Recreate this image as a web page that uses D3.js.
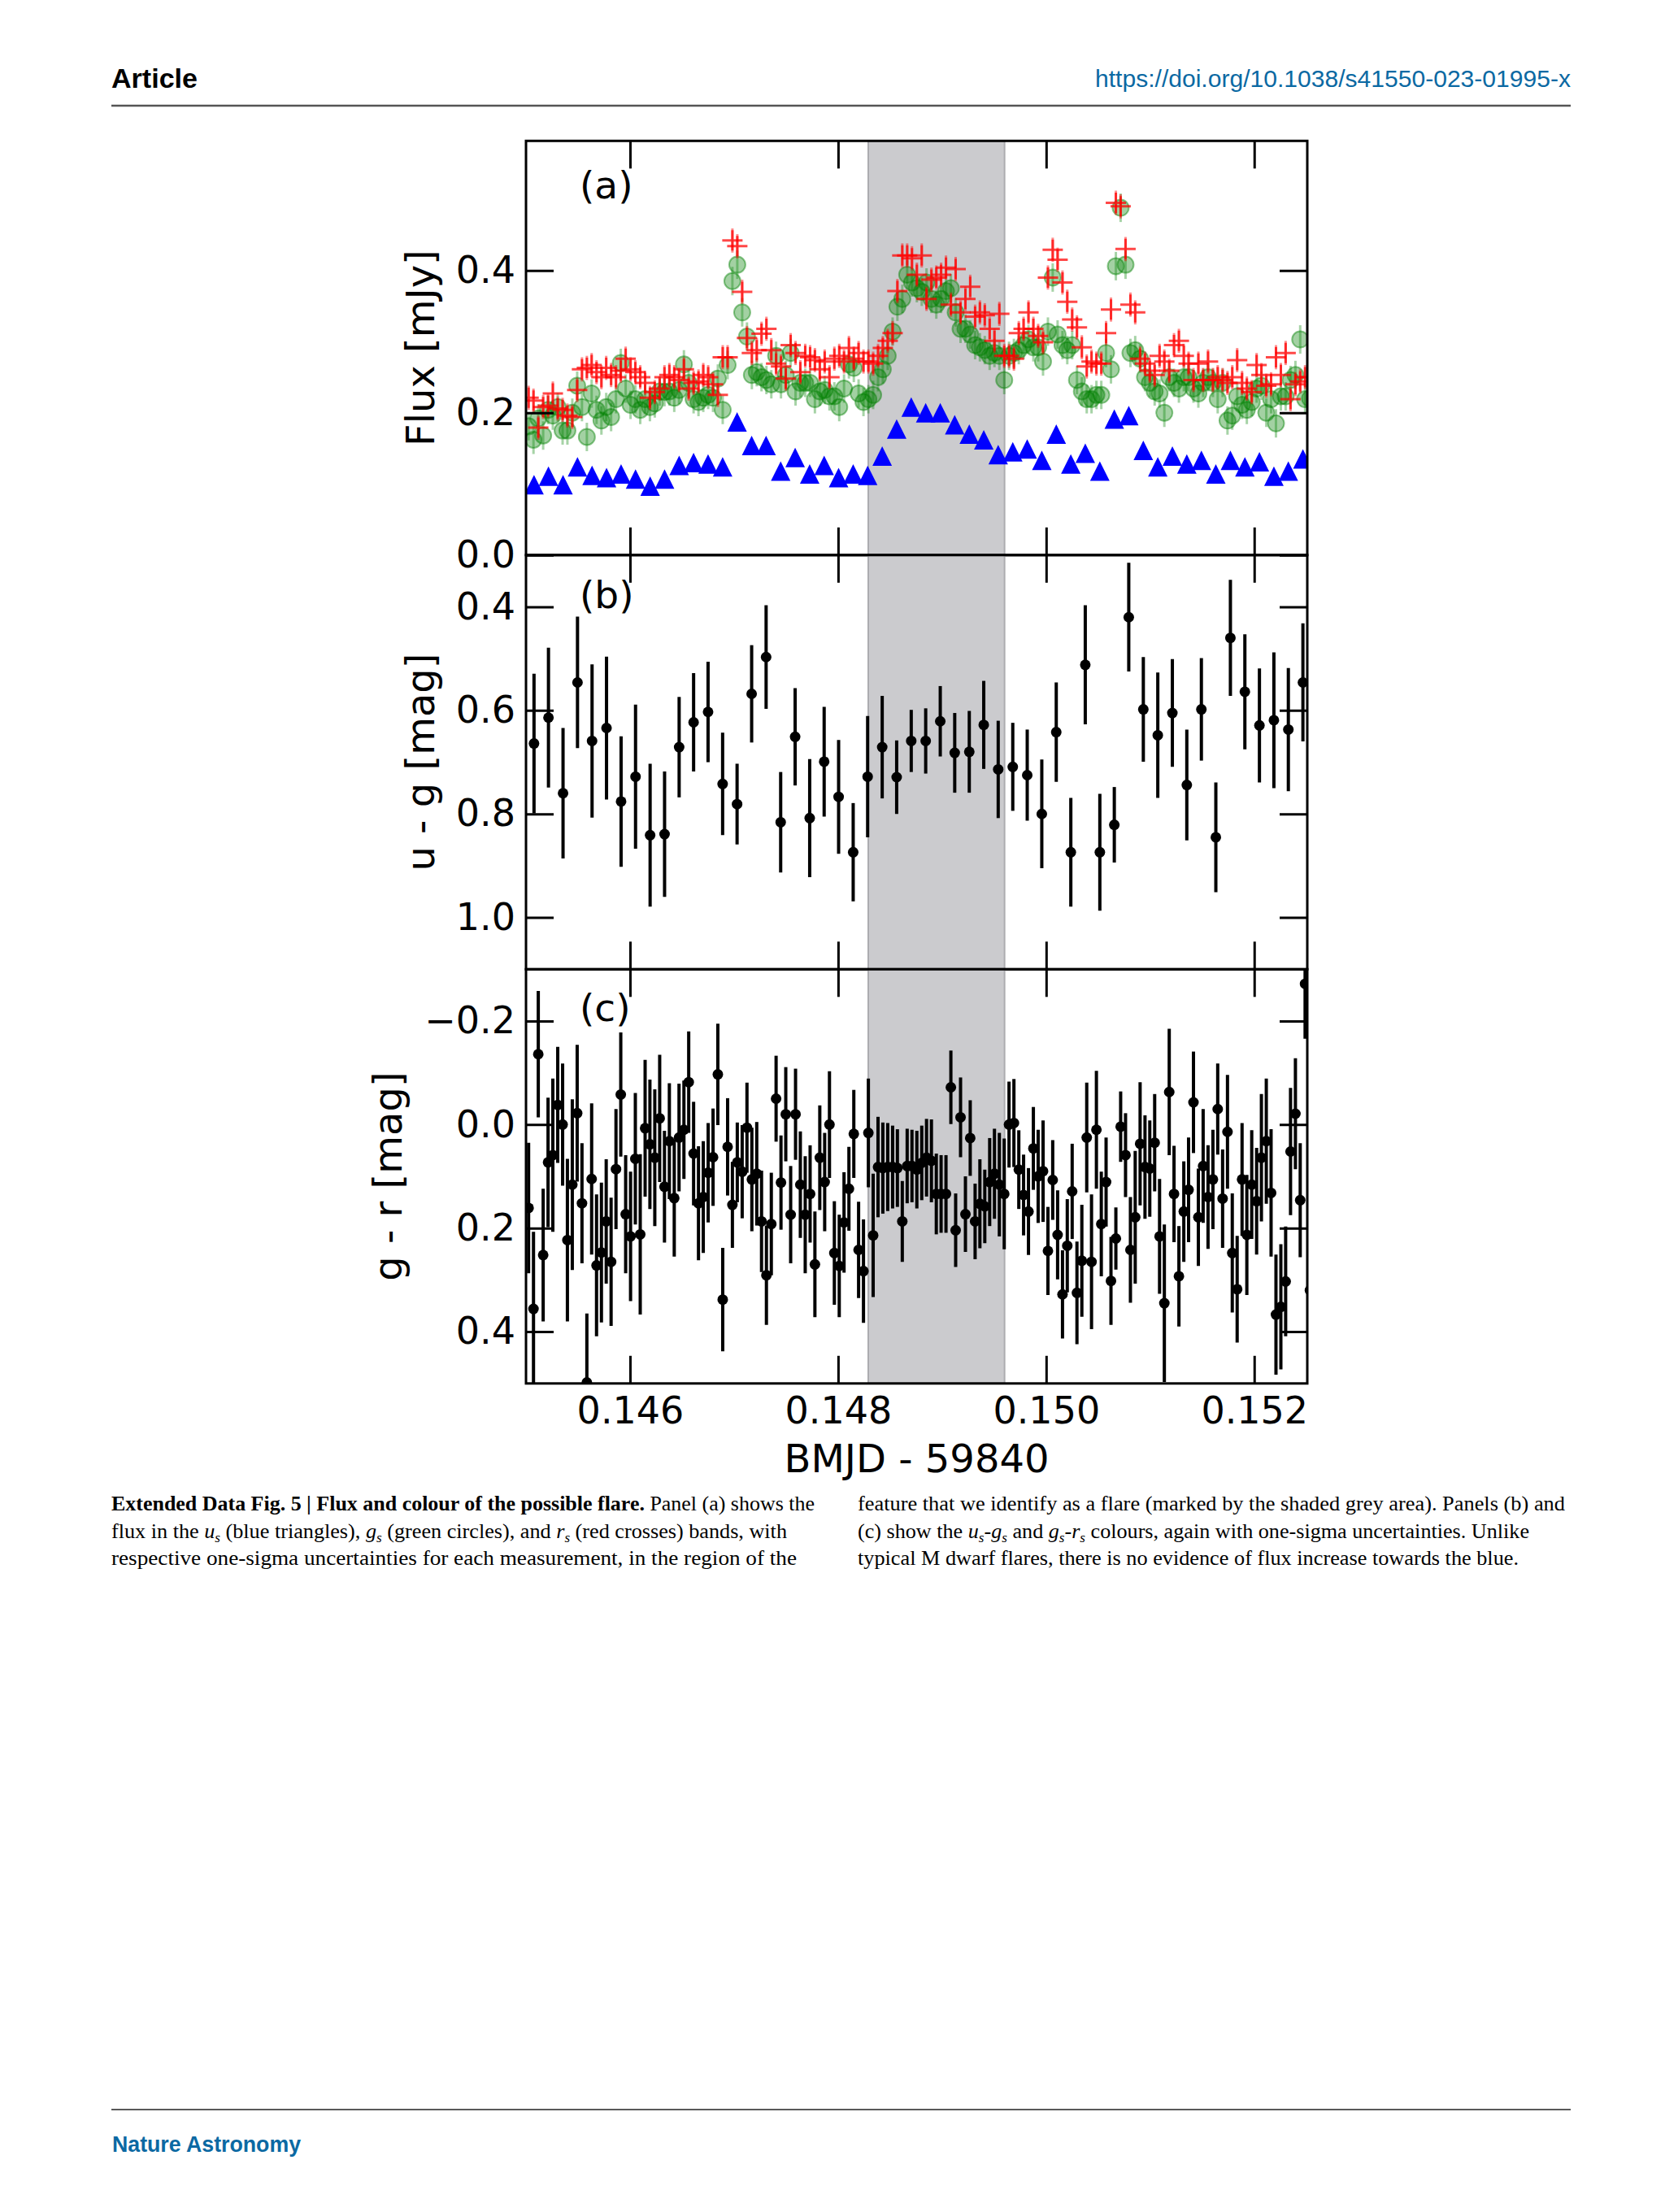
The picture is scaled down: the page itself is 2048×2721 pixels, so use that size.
<!DOCTYPE html>
<html><head><meta charset="utf-8">
<script src="https://cdn.jsdelivr.net/npm/d3@7"></script>
<style>body{margin:0;background:#fff}svg{display:block}</style>
</head><body><div id="chart"></div>
<script>
// ---------------- data ----------------
const uTime = [0.145077,0.145216,0.145356,0.145495,0.145635,0.145774,0.145914,0.146053,0.146193,0.146332,
0.146472,0.146611,0.146750,0.146890,0.147029,0.147169,0.147308,0.147448,0.147587,0.147727,
0.147866,0.148005,0.148145,0.148284,0.148424,0.148563,0.148703,0.148842,0.148982,0.149121,
0.149261,0.149400,0.149539,0.149679,0.149818,0.149958,0.150097,0.150237,0.150376,0.150516,
0.150655,0.150794,0.150934,0.151073,0.151213,0.151352,0.151492,0.151631,0.151771,0.151910,
0.152050,0.152189,0.152328,0.152468];
const uFlux = [0.099,0.111,0.099,0.124,0.112,0.109,0.114,0.107,0.097,0.107,
0.126,0.130,0.128,0.124,0.187,0.154,0.154,0.118,0.137,0.114,
0.126,0.109,0.114,0.112,0.139,0.177,0.208,0.200,0.200,0.183,
0.170,0.162,0.141,0.145,0.149,0.133,0.170,0.128,0.143,0.118,
0.191,0.196,0.147,0.124,0.139,0.128,0.133,0.114,0.133,0.124,
0.131,0.111,0.118,0.135];
const ugColour = [0.664,0.614,0.760,0.546,0.659,0.634,0.776,0.728,0.841,0.839,
0.671,0.623,0.603,0.742,0.781,0.568,0.497,0.816,0.651,0.808,
0.699,0.767,0.874,0.728,0.671,0.729,0.659,0.659,0.621,0.682,
0.680,0.628,0.714,0.709,0.725,0.800,0.642,0.874,0.512,0.874,
0.821,0.420,0.598,0.648,0.605,0.744,0.598,0.845,0.460,0.564,
0.629,0.619,0.637,0.546];
const ugErr = [0.135,0.135,0.126,0.127,0.148,0.138,0.126,0.139,0.138,0.121,
0.097,0.095,0.097,0.099,0.078,0.094,0.100,0.097,0.094,0.114,
0.106,0.110,0.095,0.117,0.099,0.071,0.060,0.063,0.068,0.077,
0.079,0.085,0.094,0.085,0.088,0.105,0.096,0.105,0.115,0.113,
0.073,0.105,0.101,0.121,0.104,0.107,0.099,0.106,0.112,0.111,
0.110,0.131,0.119,0.114];

const grTime = [0.145025,0.145072,0.145118,0.145165,0.145212,0.145258,0.145305,0.145352,0.145398,0.145445,
0.145492,0.145538,0.145585,0.145631,0.145678,0.145725,0.145771,0.145818,0.145865,0.145911,
0.145958,0.146005,0.146051,0.146098,0.146145,0.146191,0.146238,0.146285,0.146331,0.146378,
0.146425,0.146471,0.146518,0.146564,0.146611,0.146658,0.146704,0.146751,0.146798,0.146844,
0.146891,0.146938,0.146984,0.147031,0.147078,0.147124,0.147171,0.147218,0.147264,0.147311,
0.147358,0.147404,0.147451,0.147497,0.147544,0.147591,0.147637,0.147684,0.147731,0.147777,
0.147824,0.147871,0.147917,0.147964,0.148011,0.148057,0.148104,0.148151,0.148197,0.148244,
0.148291,0.148337,0.148384,0.148430,0.148477,0.148524,0.148570,0.148617,0.148664,0.148710,
0.148757,0.148804,0.148850,0.148897,0.148944,0.148990,0.149037,0.149084,0.149130,0.149177,
0.149224,0.149270,0.149317,0.149363,0.149410,0.149457,0.149503,0.149550,0.149597,0.149643,
0.149690,0.149737,0.149783,0.149830,0.149877,0.149923,0.149970,0.150017,0.150063,0.150110,
0.150157,0.150203,0.150250,0.150296,0.150343,0.150390,0.150436,0.150483,0.150530,0.150576,
0.150623,0.150670,0.150716,0.150763,0.150810,0.150856,0.150903,0.150950,0.150996,0.151043,
0.151090,0.151136,0.151183,0.151229,0.151276,0.151323,0.151369,0.151416,0.151463,0.151509,
0.151556,0.151603,0.151649,0.151696,0.151743,0.151789,0.151836,0.151883,0.151929,0.151976,
0.152023,0.152069,0.152116,0.152162,0.152209,0.152256,0.152302,0.152349,0.152396,0.152442,
0.152489,0.152536];
const gFlux = [0.181,0.162,0.192,0.168,0.204,0.196,0.208,0.175,0.175,0.200,
0.238,0.208,0.166,0.227,0.204,0.189,0.208,0.194,0.219,0.270,
0.234,0.211,0.219,0.204,0.219,0.208,0.213,0.230,0.229,0.230,
0.221,0.232,0.268,0.242,0.219,0.215,0.221,0.225,0.221,0.248,
0.204,0.267,0.385,0.408,0.341,0.307,0.253,0.257,0.250,0.246,
0.240,0.280,0.240,0.253,0.284,0.230,0.242,0.242,0.242,0.219,
0.230,0.232,0.223,0.223,0.208,0.234,0.268,0.263,0.227,0.215,
0.219,0.225,0.250,0.261,0.280,0.314,0.349,0.360,0.394,0.383,
0.375,0.370,0.383,0.360,0.352,0.360,0.371,0.375,0.341,0.318,
0.318,0.310,0.295,0.292,0.288,0.280,0.284,0.280,0.246,0.280,
0.284,0.288,0.295,0.303,0.292,0.292,0.272,0.314,0.390,0.310,
0.295,0.288,0.295,0.246,0.230,0.219,0.219,0.225,0.225,0.284,
0.261,0.406,0.488,0.408,0.284,0.288,0.276,0.250,0.242,0.230,
0.227,0.200,0.250,0.242,0.234,0.250,0.250,0.234,0.227,0.242,
0.250,0.242,0.219,0.242,0.189,0.196,0.223,0.211,0.204,0.215,
0.234,0.238,0.200,0.219,0.185,0.223,0.223,0.246,0.253,0.303,
0.219,0.220];
const rFlux = [0.221,0.217,0.179,0.208,0.210,0.227,0.206,0.204,0.196,0.194,
0.232,0.261,0.263,0.267,0.257,0.250,0.263,0.253,0.250,0.259,
0.276,0.261,0.257,0.250,0.242,0.221,0.229,0.234,0.250,0.253,
0.250,0.246,0.261,0.234,0.242,0.244,0.253,0.250,0.240,0.225,
0.278,0.278,0.442,0.434,0.370,0.305,0.284,0.288,0.311,0.318,
0.288,0.269,0.265,0.248,0.295,0.284,0.257,0.280,0.278,0.274,
0.261,0.272,0.250,0.276,0.280,0.272,0.291,0.276,0.284,0.272,
0.272,0.269,0.280,0.291,0.301,0.312,0.371,0.421,0.421,0.417,
0.394,0.421,0.360,0.387,0.390,0.394,0.404,0.352,0.402,0.341,
0.360,0.377,0.335,0.341,0.337,0.318,0.301,0.339,0.280,0.280,
0.276,0.312,0.318,0.341,0.318,0.308,0.299,0.390,0.429,0.415,
0.383,0.356,0.331,0.320,0.292,0.265,0.272,0.269,0.269,0.312,
0.345,0.495,0.490,0.430,0.352,0.341,0.276,0.269,0.259,0.253,
0.280,0.272,0.259,0.295,0.301,0.280,0.269,0.246,0.269,0.246,
0.272,0.246,0.250,0.246,0.242,0.250,0.274,0.242,0.234,0.229,
0.267,0.253,0.238,0.240,0.278,0.253,0.284,0.219,0.240,0.244,
0.250,0.250];
const gFluxErr = 0.02;
const rFluxErr = 0.017;
const grColour = [0.161,0.356,-0.136,0.252,0.073,0.059,-0.038,0.000,0.223,0.116,
-0.022,0.152,0.498,0.105,0.272,0.247,0.187,0.265,0.086,-0.058,
0.173,0.216,0.066,0.212,0.007,0.038,0.064,-0.012,0.120,0.032,
0.142,0.025,0.010,-0.082,0.056,0.152,0.140,0.093,0.063,-0.097,
0.338,0.043,0.155,0.073,0.091,0.006,0.106,0.095,0.187,0.291,
0.192,-0.050,0.112,-0.020,0.174,-0.020,0.116,0.174,0.134,0.270,
0.064,0.111,0.000,0.248,0.273,0.189,0.124,0.018,0.242,0.283,
0.016,0.214,0.082,0.084,0.082,0.082,0.084,0.187,0.080,0.080,
0.087,0.074,0.064,0.070,0.134,0.134,0.134,-0.072,0.204,-0.014,
0.173,0.026,0.187,0.153,0.158,0.111,0.095,0.116,0.134,0.000,
-0.003,0.087,0.136,0.168,0.046,0.100,0.090,0.244,0.107,0.213,
0.328,0.234,0.129,0.325,0.263,0.025,0.265,0.010,0.192,0.111,
0.302,0.220,0.004,0.059,0.242,0.179,0.037,0.082,0.085,0.035,
0.216,0.345,-0.063,0.134,0.293,0.168,0.126,-0.043,0.179,0.080,
0.140,0.106,-0.030,0.143,0.014,0.248,0.318,0.106,0.213,0.116,
0.148,0.064,0.032,0.132,0.367,0.352,0.303,0.052,-0.021,0.146,
-0.272,0.320];
const grErr = [0.126,0.149,0.122,0.128,0.125,0.148,0.112,0.118,0.157,0.165,
0.132,0.116,0.133,0.146,0.137,0.135,0.120,0.124,0.116,0.120,
0.114,0.125,0.127,0.155,0.132,0.125,0.132,0.123,0.108,0.112,
0.113,0.104,0.095,0.098,0.100,0.110,0.108,0.096,0.094,0.098,
0.100,0.094,0.083,0.077,0.090,0.087,0.100,0.100,0.098,0.096,
0.099,0.083,0.091,0.091,0.094,0.088,0.103,0.113,0.094,0.102,
0.101,0.095,0.103,0.100,0.099,0.097,0.081,0.085,0.093,0.100,
0.105,0.119,0.097,0.088,0.085,0.080,0.075,0.078,0.072,0.070,
0.075,0.072,0.075,0.080,0.078,0.075,0.075,0.071,0.071,0.077,
0.073,0.073,0.073,0.086,0.071,0.085,0.087,0.100,0.107,0.083,
0.085,0.076,0.078,0.084,0.080,0.090,0.098,0.085,0.077,0.086,
0.085,0.090,0.092,0.099,0.108,0.106,0.130,0.114,0.101,0.086,
0.085,0.060,0.068,0.081,0.102,0.128,0.119,0.100,0.093,0.094,
0.111,0.152,0.122,0.093,0.097,0.097,0.101,0.098,0.094,0.110,
0.100,0.096,0.088,0.095,0.110,0.115,0.103,0.109,0.116,0.105,
0.103,0.123,0.121,0.123,0.116,0.121,0.106,0.123,0.107,0.110,
0.106,0.120];

const flareStart = 0.14829, flareEnd = 0.14960;
const xDomain = [0.145, 0.15251];
const xTicks = [0.146, 0.148, 0.150, 0.152];
const fluxTicks = [0.0, 0.2, 0.4];
const ugTicks = [0.4, 0.6, 0.8, 1.0];
const grTicks = [-0.2, 0.0, 0.2, 0.4];
const panelLabels = ["(a)", "(b)", "(c)"];
const yLabels = ["Flux [mJy]", "u - g [mag]", "g - r [mag]"];
const xLabel = "BMJD - 59840";

// ---------------- drawing ----------------
const W = 2048, H = 2721;
const svg = d3.select("#chart").append("svg").attr("width", W).attr("height", H)
  .attr("viewBox", `0 0 ${W} ${H}`);
svg.append("rect").attr("width", W).attr("height", H).attr("fill", "#fff");

const TICK = "DejaVu Sans";
const blueLink = "#0b69a3";

// header
svg.append("text").attr("x", 137).attr("y", 108).text("Article")
  .attr("font-family", "Liberation Sans, Arial, sans-serif").attr("font-weight", "bold")
  .attr("font-size", 34).attr("textLength", 106).attr("lengthAdjust", "spacingAndGlyphs");
svg.append("text").attr("x", 1347).attr("y", 107).text("https://doi.org/10.1038/s41550-023-01995-x")
  .attr("font-family", "Liberation Sans, Arial, sans-serif").attr("font-size", 30)
  .attr("fill", blueLink).attr("textLength", 585).attr("lengthAdjust", "spacingAndGlyphs");
svg.append("line").attr("x1", 137).attr("x2", 1932).attr("y1", 130).attr("y2", 130)
  .attr("stroke", "#555").attr("stroke-width", 2.5);

// footer
svg.append("line").attr("x1", 137).attr("x2", 1932).attr("y1", 2595).attr("y2", 2595)
  .attr("stroke", "#222").attr("stroke-width", 1.5);
svg.append("text").attr("x", 138).attr("y", 2647).text("Nature Astronomy")
  .attr("font-family", "Liberation Sans, Arial, sans-serif").attr("font-weight", "bold")
  .attr("font-size", 27).attr("fill", blueLink).attr("textLength", 232).attr("lengthAdjust", "spacingAndGlyphs");

// plot geometry
const plotLeft = 647, plotRight = 1608;
const panelH = 509.5;
const tops = [173.3, 173.3 + panelH, 173.3 + 2 * panelH];
const x = d3.scaleLinear().domain(xDomain).range([plotLeft, plotRight]);
const yScales = [
  d3.scaleLinear().domain([0, 0.582]).range([tops[0] + panelH, tops[0]]),
  d3.scaleLinear().domain([0.3, 1.1]).range([tops[1], tops[1] + panelH]),
  d3.scaleLinear().domain([-0.3, 0.5]).range([tops[2], tops[2] + panelH])
];
const yTickSets = [fluxTicks, ugTicks, grTicks];
const yFmt = v => d3.format(".1f")(v).replace("-", "\u2212");

const triangleUp = { draw(ctx, size) { const s = Math.sqrt(size) / 2; ctx.moveTo(0, -s); ctx.lineTo(s, s); ctx.lineTo(-s, s); ctx.closePath(); } };
const plus = { draw(ctx, size) { const s = Math.sqrt(size) / 2; ctx.moveTo(-s, 0); ctx.lineTo(s, 0); ctx.moveTo(0, -s); ctx.lineTo(0, s); } };

const defs = svg.append("defs");
tops.forEach((t, i) => {
  defs.append("clipPath").attr("id", "clip" + i).append("rect")
    .attr("x", plotLeft).attr("y", t).attr("width", plotRight - plotLeft).attr("height", panelH);
});

const uData = uTime.map((t, i) => ({ t, f: uFlux[i], c: ugColour[i], e: ugErr[i] }));
const grData = grTime.map((t, i) => ({ t, g: gFlux[i], r: rFlux[i], c: grColour[i], e: grErr[i] }));

tops.forEach((top, pi) => {
  const y = yScales[pi];
  const bottom = top + panelH;
  const pg = svg.append("g");
  const data = pg.append("g").attr("clip-path", `url(#clip${pi})`);
  // shaded flare region
  data.append("rect").attr("x", x(flareStart)).attr("y", top)
    .attr("width", x(flareEnd) - x(flareStart)).attr("height", panelH)
    .attr("fill", "#cbcbce").attr("stroke", "#acacb0").attr("stroke-width", 2);

  if (pi === 0) {
    data.append("g").selectAll("path").data(uData).join("path")
      .attr("d", d3.symbol(triangleUp, 24 * 24))
      .attr("transform", d => `translate(${x(d.t)},${y(d.f)})`)
      .attr("fill", "#0000ff");
    data.append("g").selectAll("line").data(grData).join("line")
      .attr("x1", d => x(d.t)).attr("x2", d => x(d.t))
      .attr("y1", d => y(d.g - gFluxErr)).attr("y2", d => y(d.g + gFluxErr))
      .attr("stroke", "#008000").attr("stroke-opacity", 0.35).attr("stroke-width", 3);
    data.append("g").selectAll("circle").data(grData).join("circle")
      .attr("cx", d => x(d.t)).attr("cy", d => y(d.g)).attr("r", 10)
      .attr("fill", "#008000").attr("fill-opacity", 0.36)
      .attr("stroke", "#008000").attr("stroke-opacity", 0.45).attr("stroke-width", 2);
    data.append("g").selectAll("line").data(grData).join("line")
      .attr("x1", d => x(d.t)).attr("x2", d => x(d.t))
      .attr("y1", d => y(d.r - rFluxErr)).attr("y2", d => y(d.r + rFluxErr))
      .attr("stroke", "#ff0000").attr("stroke-opacity", 0.45).attr("stroke-width", 3);
    data.append("g").selectAll("path").data(grData).join("path")
      .attr("d", d3.symbol(plus, 25 * 25))
      .attr("transform", d => `translate(${x(d.t)},${y(d.r)})`)
      .attr("fill", "none").attr("stroke", "#ff0000").attr("stroke-opacity", 0.72).attr("stroke-width", 3);
  } else {
    const pts = pi === 1 ? uData : grData;
    data.append("g").selectAll("line").data(pts).join("line")
      .attr("x1", d => x(d.t)).attr("x2", d => x(d.t))
      .attr("y1", d => y(d.c - d.e)).attr("y2", d => y(d.c + d.e))
      .attr("stroke", "#000").attr("stroke-width", 4);
    data.append("g").selectAll("circle").data(pts).join("circle")
      .attr("cx", d => x(d.t)).attr("cy", d => y(d.c)).attr("r", 6.5).attr("fill", "#000");
  }

  // axes (inward ticks on all four sides)
  const styleAxis = g => {
    g.select(".domain").remove();
    g.selectAll(".tick line").attr("stroke", "#000").attr("stroke-width", 3);
    g.attr("font-family", TICK).attr("font-size", 46);
    g.selectAll(".tick text").attr("fill", "#000");
  };
  pg.append("g").attr("transform", `translate(0,${bottom})`)
    .call(d3.axisBottom(x).tickValues(xTicks).tickSizeInner(-34).tickSizeOuter(0).tickPadding(17)
      .tickFormat(pi === 2 ? d3.format(".3f") : () => ""))
    .call(styleAxis);
  pg.append("g").attr("transform", `translate(0,${top})`)
    .call(d3.axisTop(x).tickValues(xTicks).tickSizeInner(-34).tickSizeOuter(0).tickFormat(() => ""))
    .call(styleAxis);
  pg.append("g").attr("transform", `translate(${plotLeft},0)`)
    .call(d3.axisLeft(y).tickValues(yTickSets[pi]).tickSizeInner(-34).tickSizeOuter(0).tickPadding(13).tickFormat(yFmt))
    .call(styleAxis);
  pg.append("g").attr("transform", `translate(${plotRight},0)`)
    .call(d3.axisRight(y).tickValues(yTickSets[pi]).tickSizeInner(-34).tickSizeOuter(0).tickFormat(() => ""))
    .call(styleAxis);

  // frame
  pg.append("rect").attr("x", plotLeft).attr("y", top).attr("width", plotRight - plotLeft).attr("height", panelH)
    .attr("fill", "none").attr("stroke", "#000").attr("stroke-width", 3);

  // panel label
  const labelDy = [71, 65, 64][pi];
  pg.append("text").attr("x", 713).attr("y", top + labelDy).text(panelLabels[pi])
    .attr("font-family", TICK).attr("font-size", 47);

  // y label
  const ylx = [534, 534, 494][pi];
  pg.append("text").attr("transform", `translate(${ylx},${top + panelH / 2}) rotate(-90)`)
    .attr("text-anchor", "middle").text(yLabels[pi])
    .attr("font-family", TICK).attr("font-size", 48);
});

svg.append("text").attr("x", (plotLeft + plotRight) / 2).attr("y", 1811).attr("text-anchor", "middle")
  .text(xLabel).attr("font-family", TICK).attr("font-size", 48);

// caption
const capLines = [
  { x: 137, y: 1858, w: 865, parts: [["Extended Data Fig. 5 | Flux and colour of the possible flare.", "b"], [" Panel (a) shows the", ""]] },
  { x: 137, y: 1892, w: 831, parts: [["flux in the ", ""], ["u", "i"], ["s", "s"], [" (blue triangles), ", ""], ["g", "i"], ["s", "s"], [" (green circles), and ", ""], ["r", "i"], ["s", "s"], [" (red crosses) bands, with", ""]] },
  { x: 137, y: 1925, w: 843, parts: [["respective one-sigma uncertainties for each measurement, in the region of the", ""]] },
  { x: 1055, y: 1858, w: 870, parts: [["feature that we identify as a flare (marked by the shaded grey area). Panels (b) and", ""]] },
  { x: 1055, y: 1892, w: 826, parts: [["(c) show the ", ""], ["u", "i"], ["s", "s"], ["-", ""], ["g", "i"], ["s", "s"], [" and ", ""], ["g", "i"], ["s", "s"], ["-", ""], ["r", "i"], ["s", "s"], [" colours, again with one-sigma uncertainties. Unlike", ""]] },
  { x: 1055, y: 1925, w: 813, parts: [["typical M dwarf flares, there is no evidence of flux increase towards the blue.", ""]] }
];
capLines.forEach(L => {
  const t = svg.append("text").attr("x", L.x).attr("y", L.y)
    .attr("font-family", "Liberation Serif, Times New Roman, serif").attr("font-size", 24.5)
    .attr("fill", "#000").attr("textLength", L.w).attr("lengthAdjust", "spacingAndGlyphs");
  let shifted = false;
  L.parts.forEach(([s, st]) => {
    const ts = t.append("tspan").text(s);
    if (st === "b") ts.attr("font-weight", "bold");
    if (st === "i") ts.attr("font-style", "italic");
    if (st === "s") { ts.attr("font-size", 16).attr("font-style", "italic").attr("dy", 5); shifted = true; }
    else if (shifted) { ts.attr("dy", -5); shifted = false; }
  });
});
</script>
</body></html>
